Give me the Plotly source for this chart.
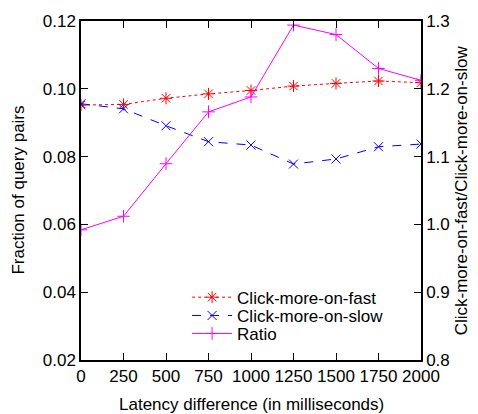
import plotly.graph_objects as go

latency = [0, 250, 500, 750, 1000, 1250, 1500, 1750, 2000]
click_fast = [0.0952, 0.0954, 0.0972, 0.0985, 0.0995, 0.1008, 0.1016, 0.1023, 0.1018]
click_slow = [0.0956, 0.0941, 0.0891, 0.0844, 0.0834, 0.0778, 0.0793, 0.0829, 0.0837]
ratio = [0.992, 1.012, 1.0895, 1.166, 1.188, 1.294, 1.280, 1.230, 1.2125]

x_ticks = [0, 250, 500, 750, 1000, 1250, 1500, 1750, 2000]
y_ticks = [0.02, 0.04, 0.06, 0.08, 0.10, 0.12]
y2_ticks = [0.8, 0.9, 1.0, 1.1, 1.2, 1.3]

FONT = "Liberation Sans, Arial, sans-serif"
FS = 17

fig = go.Figure()
fig.add_trace(go.Scatter(
    x=latency, y=click_fast, name="Click-more-on-fast", mode="lines+markers", legend="legend",
    line=dict(color="#ff0000", width=1, dash="dot"),
    marker=dict(symbol="asterisk-open", size=10, color="#ff0000", line=dict(color="#ff0000", width=1)),
))
fig.add_trace(go.Scatter(
    x=latency, y=click_slow, name="Click-more-on-slow", mode="lines+markers", legend="legend2",
    line=dict(color="#0000ff", width=1, dash="dash"),
    marker=dict(symbol="x-thin-open", size=9, color="#0000ff", line=dict(color="#0000ff", width=1)),
))
fig.add_trace(go.Scatter(
    x=latency, y=ratio, name="Ratio", mode="lines+markers", yaxis="y2", legend="legend3",
    line=dict(color="#ff00ff", width=1),
    marker=dict(symbol="cross-thin-open", size=9, color="#ff00ff", line=dict(color="#ff00ff", width=1)),
))

axis_common = dict(showgrid=False, zeroline=False, showline=True, linecolor="black", linewidth=1.5,
                   ticks="inside", ticklen=7, tickwidth=1, tickcolor="black", automargin=False,
                   tickfont=dict(family=FONT, size=FS, color="black"))

leg_common = dict(xanchor="left", yanchor="middle", bgcolor="rgba(0,0,0,0)",
                  font=dict(family=FONT, size=FS, color="black"), itemwidth=40)

fig.update_layout(
    width=478, height=414,
    margin=dict(l=81, r=57, t=21, b=54),
    paper_bgcolor="white", plot_bgcolor="white",
    font=dict(family=FONT, size=FS, color="black"),
    showlegend=True,
    legend=dict(x=0.312, y=0.184, **leg_common),
    legend2=dict(x=0.312, y=0.130, **leg_common),
    legend3=dict(x=0.312, y=0.077, **leg_common),
    xaxis=dict(range=[0, 2000], tickvals=x_ticks, ticktext=[str(v) for v in x_ticks], mirror="ticks",
               **axis_common),
    yaxis=dict(range=[0.02, 0.12], tickvals=y_ticks, ticktext=["%.2f" % v for v in y_ticks],
               **axis_common),
    yaxis2=dict(range=[0.8, 1.3], tickvals=y2_ticks, ticktext=["%.1f" % v for v in y2_ticks],
                overlaying="y", side="right", **axis_common),
    annotations=[
        dict(text="Latency difference (in milliseconds)", xref="paper", yref="paper",
             x=0.5, y=-0.130, xanchor="center", yanchor="middle", showarrow=False,
             font=dict(family=FONT, size=FS, color="black")),
        dict(text="Fraction of query pairs", xref="paper", yref="paper",
             x=-0.185, y=0.5, xanchor="center", yanchor="middle", textangle=-90, showarrow=False,
             font=dict(family=FONT, size=FS, color="black")),
        dict(text="Click-more-on-fast/Click-more-on-slow", xref="paper", yref="paper",
             x=1.12, y=0.5, xanchor="center", yanchor="middle", textangle=-90, showarrow=False,
             font=dict(family=FONT, size=FS, color="black")),
    ],
)

fig.write_html("out.html", config={"displayModeBar": False},
               post_script="document.body.style.margin='0px';")
